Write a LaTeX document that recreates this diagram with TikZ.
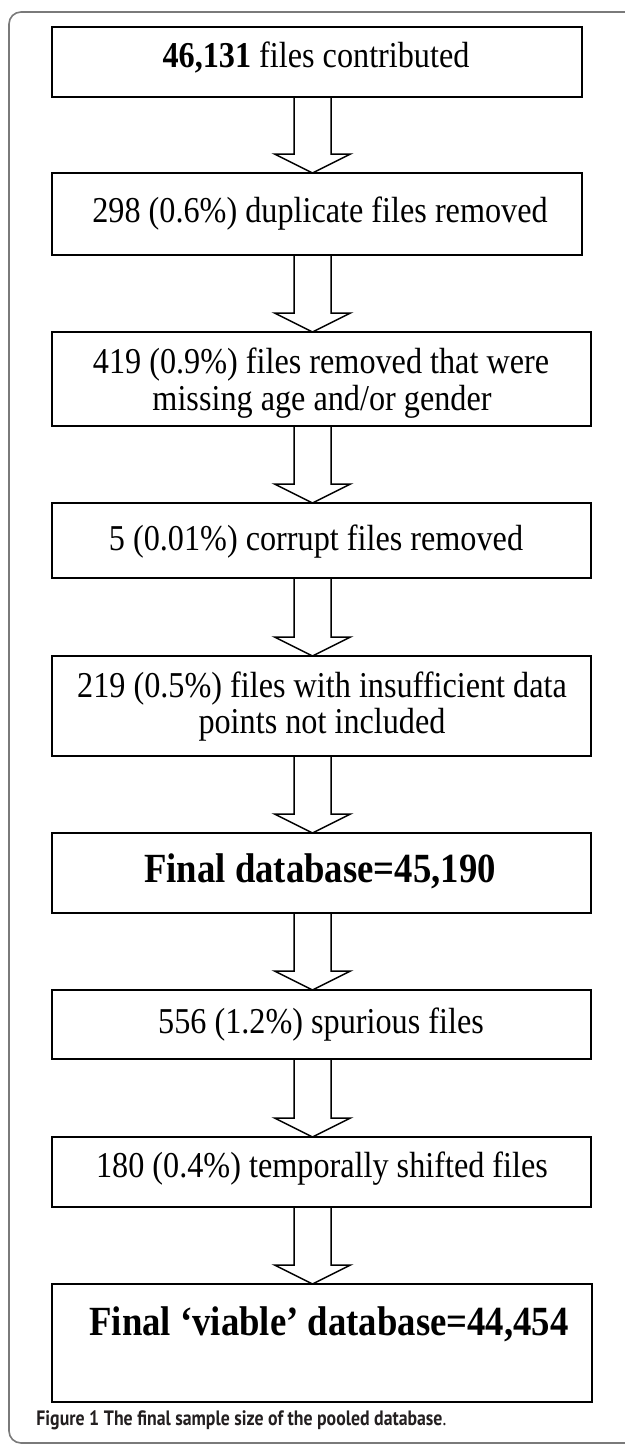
\documentclass[tikz,border=0pt]{standalone}
\usepackage{fontspec}
\setmainfont{Liberation Serif}
\newfontfamily\capfont{PT Sans}
\usepackage{graphicx}
\usetikzlibrary{fit,calc}
\definecolor{capgray}{HTML}{231F20}
\definecolor{framegray}{HTML}{7A7A7A}
\newcommand{\sx}[1]{\scalebox{0.885}[1]{#1}}
\newcommand{\capx}[1]{\scalebox{0.855}[1]{#1}}
\newcommand{\flowarrow}[2]{%
  \draw[blockarrow] ($(#1.south -| axis)+(-18.5,0)$)
    -- ($(#2.north -| axis)+(-18.5,-19)$)
    -- ($(#2.north -| axis)+(-38,-19)$)
    -- (#2.north -| axis)
    -- ($(#2.north -| axis)+(38,-19)$)
    -- ($(#2.north -| axis)+(18.5,-19)$)
    -- ($(#1.south -| axis)+(18.5,0)$);}
\begin{document}
\begin{tikzpicture}[x=0.5pt,y=-0.5pt,
  box/.style={draw=black,line width=1.2pt,inner sep=0pt,outer sep=0pt},
  blockarrow/.style={draw=black,line width=0.75pt,line join=miter},
  frame/.style={draw=framegray,line width=0.8pt,rounded corners=6pt},
  txt/.style={inner sep=0pt,outer sep=0pt,anchor=base,font=\fontsize{18.2pt}{21pt}\selectfont},
  btxt/.style={inner sep=0pt,outer sep=0pt,anchor=base,font=\fontsize{20.75pt}{24pt}\selectfont\bfseries}]
\useasboundingbox (0,0) rectangle (625,1446);
\clip (0,0) rectangle (625,1446);
\fill[white] (0,0) rectangle (625,1446);
\draw[frame] (660,12) -- (9,12) -- (9,1443) -- (660,1443);

\coordinate (axis) at (312.5,0);

\node[box,fit={(52,27) (582,97)}] (b1) {};
\node[box,fit={(52,173) (582,255)}] (b2) {};
\node[box,fit={(52,332) (591,426)}] (b3) {};
\node[box,fit={(52,503) (591,578)}] (b4) {};
\node[box,fit={(52,656) (591,756)}] (b5) {};
\node[box,fit={(52,833) (591,913)}] (b6) {};
\node[box,fit={(52,990) (591,1059)}] (b7) {};
\node[box,fit={(52,1137) (591,1207)}] (b8) {};
\node[box,fit={(52,1284) (592,1402)}] (b9) {};

\node[txt] (t1) at (316,67) {\sx{\textbf{46,131} files contributed}};
\node[txt] (t2) at (320,222) {\sx{298 (0.6\%) duplicate files removed}};
\node[txt] (t3a) at (321,373) {\sx{419 (0.9\%) files removed that were}};
\node[txt] (t3b) at (322,410) {\sx{missing age and/or gender}};
\node[txt] (t4) at (316,550) {\sx{5 (0.01\%) corrupt files removed}};
\node[txt] (t5a) at (322,697) {\sx{219 (0.5\%) files with insufficient data}};
\node[txt] (t5b) at (322,733) {\sx{points not included}};
\node[btxt] (t6) at (320,882) {\sx{Final database=45,190}};
\node[txt] (t7) at (321,1033) {\sx{556 (1.2\%) spurious files}};
\node[txt] (t8) at (322,1177) {\sx{180 (0.4\%) temporally shifted files}};
\node[btxt] (t9) at (329,1335) {\sx{Final ‘viable’ database=44,454}};

\flowarrow{b1}{b2}
\flowarrow{b2}{b3}
\flowarrow{b3}{b4}
\flowarrow{b4}{b5}
\flowarrow{b5}{b6}
\flowarrow{b6}{b7}
\flowarrow{b7}{b8}
\flowarrow{b8}{b9}

\node[anchor=base west,inner sep=0pt,text=capgray,font=\capfont\fontsize{10.4pt}{12pt}\selectfont] (cap) at (36,1425) {\capx{\textbf{Figure 1} \textbf{The final sample size of the pooled database}.}};
\end{tikzpicture}
\end{document}
